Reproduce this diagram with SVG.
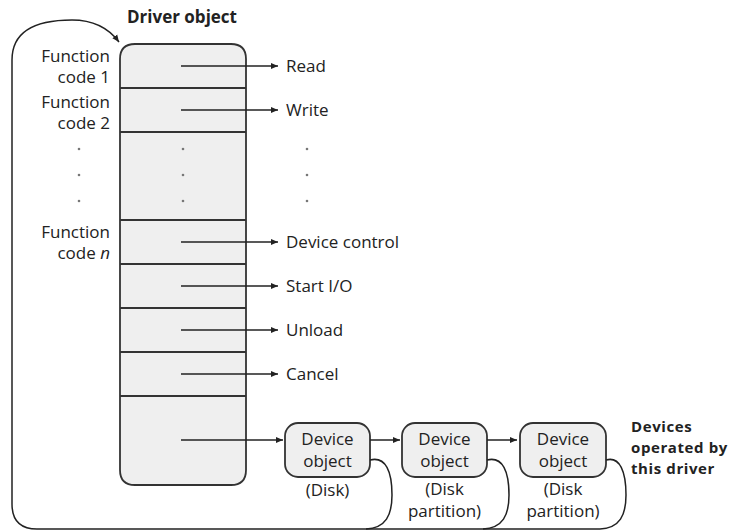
<svg xmlns="http://www.w3.org/2000/svg" width="735" height="531" viewBox="0 0 735 531">
<defs>
<marker id="ah" markerWidth="8" markerHeight="8" refX="7" refY="4" orient="auto" markerUnits="userSpaceOnUse">
<path d="M0,1 L7,4 L0,7 Z" fill="#222"/>
</marker>
<style>
text{font-family:"Open Sans","Noto Sans",sans-serif;font-size:17px;fill:#222}
.b{font-weight:bold}
.r{text-anchor:end}
.m{text-anchor:middle}
.s{font-size:15px;letter-spacing:0.6px}
.ln{stroke:#222;stroke-width:1.5;fill:none}
.box{fill:#efefef;stroke:#333;stroke-width:1.8}
.div{stroke:#333;stroke-width:1.8}
.dot{fill:#777}
</style>
</defs>
<rect width="735" height="531" fill="#fff"/>

<g id="driver-object">
<text class="b" x="127" y="23">Driver object</text>
<path class="box" d="M135,44 L231,44 Q246,44 246,59 L246,470 Q246,485 231,485 L135,485 Q120,485 120,470 L120,59 Q120,44 135,44 Z"/>
<line class="div" x1="120" y1="88" x2="246" y2="88"/>
<line class="div" x1="120" y1="132" x2="246" y2="132"/>
<line class="div" x1="120" y1="220" x2="246" y2="220"/>
<line class="div" x1="120" y1="264" x2="246" y2="264"/>
<line class="div" x1="120" y1="308" x2="246" y2="308"/>
<line class="div" x1="120" y1="352" x2="246" y2="352"/>
<line class="div" x1="120" y1="396" x2="246" y2="396"/>
<circle class="dot" cx="183" cy="149" r="1.3"/>
<circle class="dot" cx="183" cy="175" r="1.3"/>
<circle class="dot" cx="183" cy="201" r="1.3"/>
</g>

<g id="function-labels">
<text class="r" x="110" y="62">Function</text>
<text class="r" x="110" y="83">code 1</text>
<text class="r" x="110" y="108">Function</text>
<text class="r" x="110" y="129">code 2</text>
<text class="r" x="110" y="238">Function</text>
<text class="r" x="110" y="259">code <tspan font-style="italic">n</tspan></text>
<circle class="dot" cx="79" cy="149" r="1.3"/>
<circle class="dot" cx="79" cy="175" r="1.3"/>
<circle class="dot" cx="79" cy="201" r="1.3"/>
</g>

<g id="routine-labels">
<text x="286" y="72">Read</text>
<text x="286" y="116">Write</text>
<circle class="dot" cx="307" cy="149" r="1.3"/>
<circle class="dot" cx="307" cy="175" r="1.3"/>
<circle class="dot" cx="307" cy="201" r="1.3"/>
<text x="286" y="248">Device control</text>
<text x="286" y="292">Start I/O</text>
<text x="286" y="336">Unload</text>
<text x="286" y="380">Cancel</text>
</g>

<g id="device-disk">
<rect class="box" x="285" y="423" width="85" height="54" rx="13"/>
<text class="m" x="327.5" y="445">Device</text>
<text class="m" x="327.5" y="467">object</text>
<text class="m" x="327.5" y="496">(Disk)</text>
</g>

<g id="device-partition-1">
<rect class="box" x="402" y="423" width="85" height="54" rx="13"/>
<text class="m" x="444.5" y="445">Device</text>
<text class="m" x="444.5" y="467">object</text>
<text class="m" x="444.5" y="495">(Disk</text>
<text class="m" x="444.5" y="517">partition)</text>
</g>

<g id="device-partition-2">
<rect class="box" x="520" y="423" width="86" height="54" rx="13"/>
<text class="m" x="563" y="445">Device</text>
<text class="m" x="563" y="467">object</text>
<text class="m" x="563" y="495">(Disk</text>
<text class="m" x="563" y="517">partition)</text>
</g>

<g id="devices-label">
<text class="b s" x="631" y="432">Devices</text>
<text class="b s" x="631" y="453">operated by</text>
<text class="b s" x="631" y="474">this driver</text>
</g>

<g id="connectors">
<path class="ln" d="M600,529 L37,529 Q12,529 12,504 L12,60 C12,28 40,20 72,20 C95,20 110,30 119,42" marker-end="url(#ah)"/>
<line class="ln" x1="181" y1="66" x2="278" y2="66" marker-end="url(#ah)"/>
<line class="ln" x1="181" y1="110" x2="278" y2="110" marker-end="url(#ah)"/>
<line class="ln" x1="181" y1="242" x2="278" y2="242" marker-end="url(#ah)"/>
<line class="ln" x1="181" y1="286" x2="278" y2="286" marker-end="url(#ah)"/>
<line class="ln" x1="181" y1="330" x2="278" y2="330" marker-end="url(#ah)"/>
<line class="ln" x1="181" y1="374" x2="278" y2="374" marker-end="url(#ah)"/>
<line class="ln" x1="181" y1="440" x2="283" y2="440" marker-end="url(#ah)"/>
<line class="ln" x1="370" y1="440" x2="400" y2="440" marker-end="url(#ah)"/>
<line class="ln" x1="487" y1="440" x2="517" y2="440" marker-end="url(#ah)"/>
<path class="ln" d="M370,460 C386,456 392,472 392,495 C392,515 386,528 366,529"/>
<path class="ln" d="M487,460 C503,456 509,472 509,495 C509,515 503,528 483,529"/>
<path class="ln" d="M606,460 C620,456 626,472 626,495 C626,515 620,528 600,529"/>
</g>
</svg>
